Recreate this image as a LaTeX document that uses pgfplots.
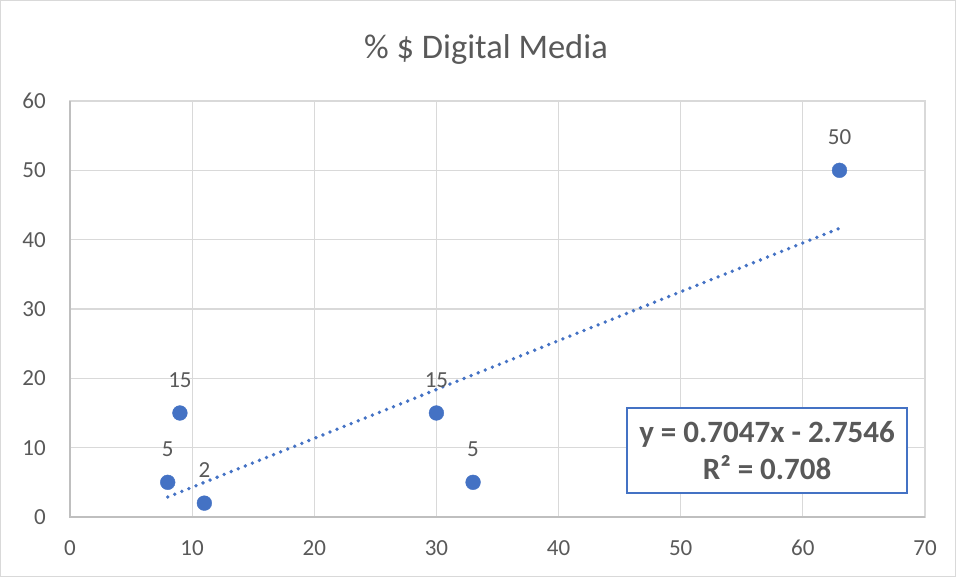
\documentclass[border=0pt]{standalone}
\usepackage{pgfplots}
\pgfplotsset{compat=1.18}
\usepackage{fontspec}
\setmainfont{Carlito}
\definecolor{txt}{HTML}{595959}
\definecolor{pt}{HTML}{4472C4}
\definecolor{grd}{HTML}{D9D9D9}
\definecolor{axl}{HTML}{BFBFBF}
\begin{document}
\begin{tikzpicture}[x=1pt,y=1pt]
\draw[grd, line width=1pt] (0.5,0.5) rectangle (955.5,576.5);
\useasboundingbox (0,0) rectangle (956,577);
\node[text=txt, font=\fontsize{34.5}{36}\selectfont, anchor=base] at (486,518) {\% \$ Digital Media};
\begin{axis}[at={(70pt,60pt)}, anchor=south west, scale only axis,
  width=855pt, height=416pt,
  xmin=0, xmax=70, ymin=0, ymax=60,
  xtick={0,10,...,70}, ytick={0,10,...,60},
  grid=major, major grid style={draw=grd, line width=1.2pt},
  axis line style={draw=grd, line width=1.2pt},
  tick style={draw=none},
  /pgf/number format/assume math mode=true,
  tick label style={font=\fontsize{23}{23}\selectfont, text=txt, inner sep=0pt},
  xticklabel style={anchor=north, yshift=-23pt},
  yticklabel style={anchor=east, xshift=-24pt},
  clip=false,
  after end axis/.code={
    \draw[axl, line width=1.2pt] (axis cs:0,60) -- (axis cs:0,0) -- (axis cs:70,0);
  },
]
\addplot[pt, line width=3.8pt, line cap=round, dash pattern=on 0pt off 7.6pt]
  coordinates {(8,2.8830) (63,41.6415)};
\addplot[only marks, mark=*, mark size=7.4pt, mark options={fill=pt, draw=pt},
  nodes near coords, point meta=explicit symbolic,
  nodes near coords style={font=\fontsize{23}{23}\selectfont, text=txt, anchor=center, inner sep=0pt, yshift=33pt}]
  table[meta=lab] {
x y lab
8 5 5
9 15 15
11 2 2
30 15 15
33 5 5
63 50 50
};
\node[draw=pt, line width=1.3pt, fill=white, minimum width=280pt, minimum height=85pt,
  align=center, text=txt, font=\bfseries\fontsize{31}{37}\selectfont]
  at (axis cs:57.07,9.59) {y = 0.7047x - 2.7546\\R² = 0.708};
\end{axis}
\end{tikzpicture}
\end{document}
